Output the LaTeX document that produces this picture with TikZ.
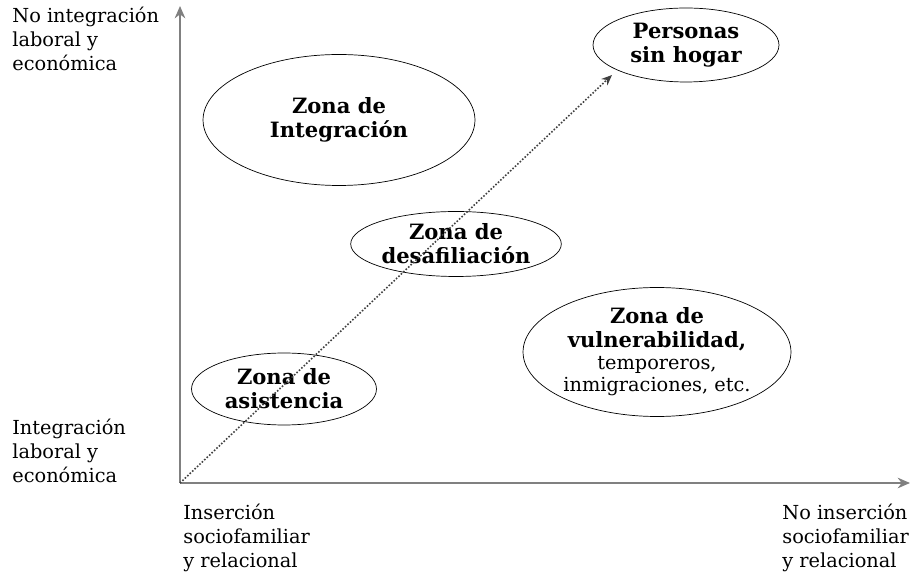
\documentclass[tikz,border=0pt]{standalone}
\usepackage{fontspec}
\setmainfont{DejaVu Serif}
\usetikzlibrary{calc, shapes.geometric, arrows.meta}

\begin{document}
\begin{tikzpicture}[x=0.02cm, y=-0.02cm,
        zona/.style={draw, ellipse, inner sep=0pt, align=center, font=\fontsize{12}{13.6}\selectfont\bfseries},
        etiqueta/.style={align=left, anchor=north west, inner sep=0pt, font=\fontsize{11}{13.5}\selectfont},
        eje/.style={draw=gray, line width=1.5pt, -{Stealth[length=7pt, width=6pt, fill=black]}}]
        \useasboundingbox (0,0) rectangle (912,573);

        \coordinate (O) at (180,483);
        \coordinate (Y) at (180,6);
        \coordinate (X) at (910,483);
        \coordinate (punta) at (612,75);

        \draw[eje] (O) -- (Y);
        \draw[eje] (O) -- (X);

        \node[zona, minimum width=5.44cm, minimum height=2.62cm] (integracion) at (339,120) {Zona de\\Integración};
        \node[zona, minimum width=3.72cm, minimum height=1.48cm] (hogar) at (686,45) {Personas\\sin hogar};
        \node[zona, minimum width=3.52cm, minimum height=1.3cm] (desafiliacion) at (456,244) {Zona de\\desafiliación};
        \node[zona, minimum width=3.7cm, minimum height=1.44cm] (asistencia) at (284,389) {Zona de\\asistencia};
        \node[zona, minimum width=5.36cm, minimum height=2.58cm] (vulnerabilidad) at (657,352)
            {Zona de\\vulnerabilidad,\\[-1pt]{\mdseries\fontsize{11}{13}\selectfont temporeros,}\\[-1pt]{\mdseries\fontsize{11}{13}\selectfont inmigraciones, etc.}};

        \draw[densely dotted, draw=black!75, line width=0.9pt, -{Stealth[length=6pt, width=5pt]}] (O) -- (punta);

        \node[etiqueta] (noint) at (12,7) {No integración\\laboral y\\económica};
        \node[etiqueta] (int) at (12,419) {Integración\\laboral y\\económica};
        \node[etiqueta] (ins) at (183,504) {Inserción\\sociofamiliar\\y relacional};
        \node[etiqueta] (noins) at (782,504) {No inserción\\sociofamiliar\\y relacional};
    \end{tikzpicture}
\end{document}
